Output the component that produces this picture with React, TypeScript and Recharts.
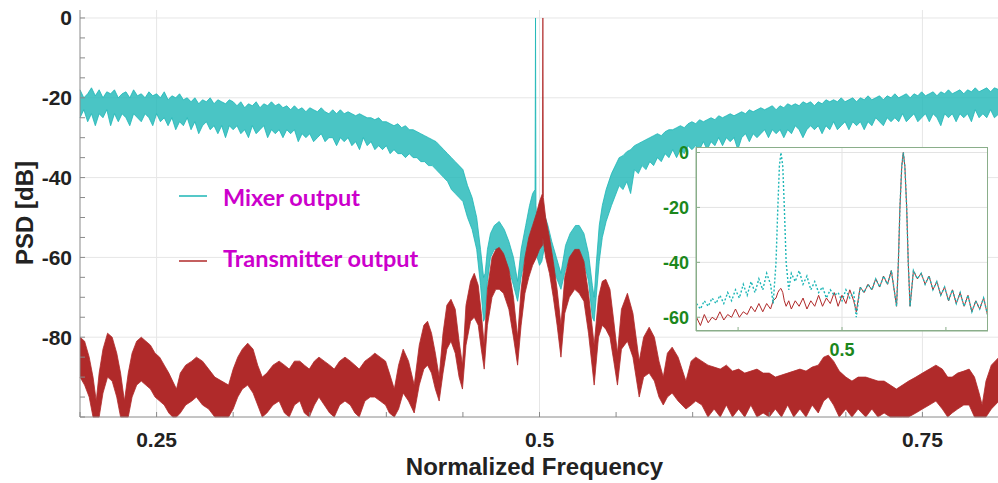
import {
  Area,
  CartesianGrid,
  ComposedChart,
  Line,
  LineChart,
  XAxis,
  YAxis,
} from 'recharts';

// main plot: mixer output, upper / lower edge of the noisy trace
const mixF = [
  0.2, 0.2025, 0.205, 0.2075, 0.21, 0.2125, 0.215, 0.2175, 0.22, 0.2225,
  0.225, 0.2275, 0.23, 0.2325, 0.235, 0.2375, 0.24, 0.2425, 0.245, 0.2475,
  0.25, 0.2525, 0.255, 0.2575, 0.26, 0.2625, 0.265, 0.2675, 0.27, 0.2725,
  0.275, 0.2775, 0.28, 0.2825, 0.285, 0.2875, 0.29, 0.2925, 0.295, 0.2975,
  0.3, 0.3025, 0.305, 0.3075, 0.31, 0.3125, 0.315, 0.3175, 0.32, 0.3225,
  0.325, 0.3275, 0.33, 0.3325, 0.335, 0.3375, 0.34, 0.3425, 0.345, 0.3475,
  0.35, 0.3525, 0.355, 0.3575, 0.36, 0.3625, 0.365, 0.3675, 0.37, 0.3725,
  0.375, 0.3775, 0.38, 0.3825, 0.385, 0.3875, 0.39, 0.3925, 0.395, 0.3975,
  0.4, 0.4025, 0.405, 0.4075, 0.41, 0.4125, 0.415, 0.4175, 0.42, 0.4225,
  0.425, 0.4275, 0.43, 0.4325, 0.435, 0.4375, 0.44, 0.4425, 0.445, 0.4475,
  0.45, 0.453, 0.456, 0.459, 0.4615, 0.4635, 0.4645, 0.466, 0.468, 0.4705,
  0.4737, 0.477, 0.48, 0.483, 0.4857, 0.488, 0.491, 0.4935, 0.4955, 0.4971,
  0.4974, 0.4977, 0.4985, 0.5, 0.5015, 0.503, 0.5055, 0.508, 0.511, 0.514,
  0.517, 0.52, 0.5235, 0.5259, 0.529, 0.532, 0.5345, 0.5357, 0.537, 0.539,
  0.541, 0.5435, 0.547,
  0.552, 0.5545, 0.557, 0.5595, 0.562, 0.5645, 0.567, 0.5695, 0.572, 0.5745,
  0.577, 0.5795, 0.582, 0.5845, 0.587, 0.5895, 0.592, 0.5945, 0.597, 0.5995,
  0.602, 0.6045, 0.607, 0.6095, 0.612, 0.6145, 0.617, 0.6195, 0.622, 0.6245,
  0.627, 0.6295, 0.632, 0.6345, 0.637, 0.6395, 0.642, 0.6445, 0.647, 0.6495,
  0.652, 0.6545, 0.657, 0.6595, 0.662, 0.6645, 0.667, 0.6695, 0.672, 0.6745,
  0.677, 0.6795, 0.682, 0.6845, 0.687, 0.6895, 0.692, 0.6945, 0.697, 0.6995,
  0.702, 0.7045, 0.707, 0.7095, 0.712, 0.7145, 0.717, 0.7195, 0.722, 0.7245,
  0.727, 0.7295, 0.732, 0.7345, 0.737, 0.7395, 0.742, 0.7445, 0.747, 0.7495,
  0.752, 0.7545, 0.757, 0.7595, 0.762, 0.7645, 0.767, 0.7695, 0.772, 0.7745,
  0.777, 0.7795, 0.782, 0.7845, 0.787, 0.7895, 0.792, 0.7945, 0.797, 0.8,
];
const mixHi = [
  -18, -20, -19, -17.5, -19.5, -18, -20, -18.5, -19, -18,
  -20, -19, -18.5, -20, -18, -19.5, -19, -20, -18.5, -19.5,
  -19, -20, -18.5, -20.5, -19.5, -20, -19, -20.5, -20, -21,
  -20, -21.5, -20.5, -21, -20, -21.5, -20.5, -21, -21.5, -20.5,
  -21, -22, -21, -22.5, -21.5, -22, -21, -22.5, -21.5, -22,
  -21, -22, -21.5, -22.5, -22, -23, -22, -23, -22.5, -23.5,
  -22.5, -23, -23.5, -22.5, -23.5, -24, -23, -24, -23, -24,
  -23.5, -24, -24.5, -24, -24.5, -25, -25, -25.5, -25, -26,
  -26, -26.5, -27, -26.5, -27.5, -27, -28, -28, -28.5, -29,
  -29.5, -30, -30.5, -31, -32, -33, -34, -35, -36, -37,
  -38, -42, -45, -50, -58, -65, -64, -58, -54, -52,
  -51, -53, -56, -60, -66, -58, -52, -47, -44, -43,
  0, -47, -52, -56, -54, -49, -52, -56, -60, -64,
  -57, -54, -52, -52, -54, -59, -67, -70, -62, -52,
  -47, -43, -39,
  -35, -34.5, -33.5, -33, -32, -31.5, -31, -30.5, -30, -29.5,
  -29, -29.5, -28.5, -28, -28, -27.5, -27, -27.5, -26.5, -26,
  -26.5, -25.5, -26, -25.5, -25, -25.5, -24.5, -25, -24.5, -24,
  -24.5, -24, -23.5, -24, -23, -23.5, -23, -22.5, -23, -22.5,
  -22, -23, -22, -22.5, -21.5, -22, -21.5, -22, -21, -21.5,
  -21, -22, -21, -21.5, -20.5, -21, -20.5, -21, -20, -21,
  -20.5, -20, -21, -20, -20.5, -19.5, -20.5, -20, -19.5, -20.5,
  -19.5, -20, -19, -20, -19.5, -19, -20, -19, -19.5, -18.5,
  -19.5, -19, -18.5, -19.5, -18.5, -19, -18, -19, -18.5, -18,
  -19, -18, -18.5, -17.5, -18.5, -18, -17.5, -18.5, -17.5, -18,
];
const mixLo = [
  -25, -23, -26, -24, -27, -24, -25, -23, -27, -24,
  -26, -24, -25, -27, -24, -25, -26, -24, -25, -27,
  -24, -26, -25, -27, -25, -28, -26, -27, -25, -28,
  -26, -29, -27, -26, -28, -27, -29, -27, -30, -27,
  -28, -27, -29, -28, -30, -27, -29, -28, -27, -30,
  -28, -29, -28, -30, -28, -29, -28, -31, -29, -30,
  -29, -31, -30, -29, -31, -30, -30, -32, -30, -31,
  -30, -32, -31, -33, -30, -32, -31, -33, -32, -33,
  -32, -34, -33, -34, -34, -35, -34, -35, -35, -36,
  -36, -37, -37, -38, -39, -40, -41, -43, -44, -45,
  -46, -50, -53, -58, -67, -76, -75, -66, -60, -58,
  -58, -60, -63, -67, -71, -65, -59, -55, -54, -53,
  -52, -56, -60, -62, -61, -58, -60, -62, -65, -68,
  -63, -60, -58, -58, -61, -66, -75, -76, -70, -61,
  -55, -51, -47,
  -42, -43, -41, -44, -38, -39, -37, -38, -36, -37,
  -35, -36, -34, -35, -33, -35, -33, -34, -32, -33,
  -32, -33, -31, -33, -31, -32, -30, -32, -30, -31,
  -30, -33, -30, -29, -31, -29, -30, -29, -28, -30,
  -28, -29, -28, -30, -28, -29, -27, -28, -30, -28,
  -27, -28, -27, -29, -27, -28, -26, -28, -27, -26,
  -28, -26, -27, -26, -28, -26, -27, -25, -26, -27,
  -25, -26, -25, -26, -24, -26, -25, -24, -26, -25,
  -24, -26, -24, -25, -27, -24, -25, -24, -26, -24,
  -25, -24, -26, -23, -25, -24, -25, -23, -25, -24,
];

// main plot: transmitter output envelope
const txF = [
  0.2, 0.203, 0.206, 0.2085, 0.2106, 0.2125, 0.215, 0.218, 0.221, 0.224, 0.2265, 0.229, 0.2315, 0.234,
  0.237, 0.24, 0.243, 0.246, 0.249, 0.252, 0.255, 0.258, 0.2605, 0.263, 0.2655, 0.269, 0.273, 0.276,
  0.28, 0.284, 0.288, 0.2925, 0.297, 0.3, 0.303, 0.306, 0.3095, 0.313, 0.316, 0.319, 0.322, 0.326, 0.33,
  0.3335, 0.3366, 0.34, 0.3435, 0.3465, 0.3497, 0.353, 0.356, 0.3595, 0.363, 0.366, 0.3695, 0.373,
  0.3765, 0.3795, 0.3823, 0.386, 0.3895, 0.3925, 0.396, 0.3995, 0.402, 0.4052, 0.408, 0.411, 0.4145,
  0.4182, 0.4215, 0.4245, 0.4269, 0.4295, 0.432, 0.4345, 0.437, 0.4395, 0.4422, 0.445, 0.4475, 0.4497,
  0.452, 0.455, 0.4574, 0.46, 0.462, 0.4639, 0.466, 0.469, 0.4715, 0.4737, 0.4765, 0.48, 0.483, 0.4857,
  0.488, 0.4905, 0.493, 0.4955, 0.498, 0.5, 0.5019, 0.5022, 0.5025, 0.504, 0.5065, 0.509, 0.5115, 0.514,
  0.5165, 0.5195, 0.523, 0.5259, 0.529, 0.532, 0.5357, 0.5385, 0.541, 0.5433, 0.546, 0.5485, 0.5509,
  0.5535, 0.5574, 0.561, 0.5651, 0.568, 0.5716, 0.575, 0.578, 0.5808, 0.5835, 0.5866, 0.5905, 0.5956,
  0.599, 0.602, 0.606, 0.61, 0.614, 0.618, 0.622, 0.626, 0.63, 0.634, 0.638, 0.642, 0.646, 0.65, 0.654,
  0.658, 0.662, 0.666, 0.67, 0.674, 0.678, 0.682, 0.6855, 0.6886, 0.692, 0.6957, 0.7, 0.704, 0.708,
  0.713, 0.717, 0.721, 0.725, 0.729, 0.733, 0.737, 0.741, 0.7457, 0.75, 0.7545, 0.7588, 0.763, 0.7665,
  0.7694, 0.773, 0.777, 0.7805, 0.784, 0.787, 0.789, 0.7915, 0.795, 0.8,
];
const txHi = [
  -80, -81, -85, -90, -96, -89, -83, -79, -80, -84, -89, -96, -89, -84,
  -81, -80, -81, -82, -84, -85, -87, -89, -91, -93, -89, -87, -86, -85,
  -86, -88, -90, -91, -92, -88, -85, -83, -81.5, -83, -87, -90, -89, -87, -86,
  -87, -88, -86, -86, -87, -88, -86, -85, -86, -87, -88, -86, -85,
  -86, -87, -88, -86, -85, -84, -85, -86, -89, -93, -87, -83, -86,
  -92, -82, -77, -76, -79, -84, -90, -79, -72, -70.5, -73, -81, -87,
  -72, -66, -64, -67, -74, -82, -68, -60, -58, -57.5, -59, -63, -70, -80,
  -68, -60, -55, -52, -49, -46, -44, 0, -45, -50, -55, -61, -68, -77,
  -65, -60, -58, -58, -61, -69, -82, -70, -66, -65.5, -68, -76, -84,
  -73, -69, -74, -86, -80, -77.5, -80, -86, -90, -84, -82.5, -85, -91,
  -86, -85, -86, -87, -87.5, -88, -87, -88.5, -88, -89, -88.5, -88, -89, -89, -90,
  -89.5, -89, -88.5, -88, -88.5, -87.5, -87, -85, -84.5, -86, -88.5, -90, -91, -90,
  -90, -90.5, -91, -91, -92, -93, -92, -91, -90, -89, -88, -87, -88, -90,
  -90, -89, -88.5, -88, -90, -94, -97, -91, -87, -85,
];
const txLo = [
  -90, -92, -95, -100, -100, -100, -94, -90, -91, -95, -100, -100, -100, -95,
  -92, -91, -92, -93, -95, -96, -97, -99, -100, -100, -99, -97, -96, -95,
  -97, -98, -100, -100, -100, -98, -95, -93, -92, -94, -97, -100, -99, -97, -96,
  -99, -100, -97, -96, -99, -100, -97, -95, -97, -99, -100, -97, -96,
  -97, -99, -100, -96, -95, -95, -96, -97, -99, -100, -98, -94, -96,
  -99, -92, -88, -87, -89, -93, -96, -89, -83, -81, -84, -90, -93,
  -82, -76, -75, -77, -83, -88, -77, -70, -68, -68, -69, -73, -80, -87,
  -77, -69, -65, -62, -60, -58, -57, -55, -56, -60, -64, -70, -77, -85,
  -74, -70, -68, -69, -71, -79, -92, -80, -77, -78, -80, -86, -92,
  -83, -81, -85, -95, -90, -89, -91, -95, -97, -95, -94, -96, -98,
  -97, -96, -97, -100, -98, -100, -97, -100, -98, -100, -97, -100, -99, -100, -98,
  -100, -97, -100, -98, -100, -97, -99, -96, -95, -97, -100, -98, -100, -98,
  -100, -98, -100, -99, -100, -100, -100, -100, -99, -98, -97, -96, -98, -100,
  -99, -98, -97, -97, -100, -100, -100, -100, -98, -96,
];

// inset: zoom around the two tones
const insetF = [
  0.4944, 0.49455, 0.4947, 0.49485, 0.495, 0.49515, 0.4953, 0.49545, 0.4956, 0.49575, 0.4959, 0.49605,
  0.4962, 0.49635, 0.4965, 0.49665, 0.4968, 0.49695, 0.4971, 0.49725, 0.49735, 0.49746, 0.49753,
  0.49759, 0.49765, 0.49772, 0.49778, 0.49785, 0.49795, 0.49805, 0.4982, 0.49835, 0.4985, 0.49865,
  0.4988, 0.49895, 0.4991, 0.49925, 0.4994, 0.49955, 0.4997, 0.49985, 0.5, 0.50015, 0.5003, 0.50045,
  0.50055, 0.5007, 0.50085, 0.501, 0.50115, 0.5013, 0.50145, 0.5016, 0.50175, 0.5019, 0.5021, 0.50217,
  0.50223, 0.5023, 0.50236, 0.50242, 0.50249, 0.50255, 0.50262, 0.50275, 0.5029, 0.50305, 0.5032,
  0.50335, 0.5035, 0.50365, 0.5038, 0.50395, 0.5041, 0.50425, 0.5044, 0.50455, 0.5047, 0.50485, 0.505,
  0.50515, 0.5053, 0.50545, 0.5056,
];
const insetMix = [
  -55, -57, -54, -56, -53, -55, -52, -55, -51, -54, -50, -53,
  -48, -52, -47, -51, -46, -50, -44, -48, -55, -40, -20,
  -5, 0, -5, -20, -40, -50, -44, -47, -43, -48, -45,
  -50, -47, -51, -49, -53, -50, -52, -51, -54, -50, -53, -51,
  -60, -49, -51, -48, -50, -46, -49, -45, -48, -43, -56, -40,
  -20, -5, 0, -5, -20, -40, -56, -43, -46, -44, -48,
  -45, -50, -47, -52, -49, -54, -50, -55, -51, -56, -52, -58,
  -54, -57, -53, -59,
];
const insetTx = [
  -60, -63, -59, -62, -60, -61, -58, -61, -59, -60, -57, -60,
  -58, -59, -56, -58, -55, -58, -55, -57, -54, -53, -51,
  -50, -49.5, -51, -54, -56, -54, -57, -54, -56, -53, -57,
  -54, -56, -52, -56, -53, -55, -51, -56, -52, -55, -50, -54,
  -58, -49, -51, -48, -50, -46, -49, -45, -48, -43, -56, -40,
  -20, -5, 0, -5, -20, -40, -56, -43, -46, -44, -48,
  -45, -50, -47, -52, -49, -54, -50, -55, -51, -56, -52, -58,
  -54, -57, -53, -59,
];

// ticks
const xTicks = [0.2, 0.25, 0.3, 0.35, 0.4, 0.45, 0.5, 0.55, 0.6, 0.65, 0.7, 0.75, 0.8];
const xLabels = [0.25, 0.5, 0.75];
const yTicks = [-100, -95, -90, -85, -80, -75, -70, -65, -60, -55, -50, -45, -40, -35, -30, -25, -20, -15, -10, -5, 0];
const yLabels = [0, -20, -40, -60, -80];
const insetXTicks = [0.496, 0.5, 0.504];
const insetYTicks = [-60, -40, -20, 0];

const TEAL = '#1db6b6';
const RED = '#b02a2a';
const AXIS = '#8a8a8a';
const GREEN = '#1c871c';
const INSET_BORDER = '#8aae8a';
const FONT = '"Liberation Sans", Arial, sans-serif';

const mixRows = mixF.map((f, i) => ({ f, band: [mixLo[i], mixHi[i]] }));
const txRows = txF.map((f, i) => ({ f, band: [txLo[i], txHi[i]] }));
const insetRows = insetF.map((f, i) => ({ f, mix: insetMix[i], tx: insetTx[i] }));

const tickStyle = { fontSize: 21, fontWeight: 700, fill: '#222', fontFamily: FONT };
const insetTickStyle = { fontSize: 18, fontWeight: 700, fill: GREEN, fontFamily: FONT };

export default function App() {
  return (
    <div
      style={{
        position: 'absolute',
        left: 0,
        top: 0,
        width: 998,
        height: 483,
        overflow: 'hidden',
        background: '#fff',
      }}
    >
      <ComposedChart width={1000} height={483} margin={{ top: 10, right: 1, bottom: 0, left: 0 }}>
        <CartesianGrid stroke="#e6e6e6" horizontalValues={yLabels} verticalValues={xLabels} />
        <XAxis
          dataKey="f"
          type="number"
          domain={[0.2, 0.8]}
          ticks={xTicks}
          interval={0}
          tickFormatter={(v: number) => (xLabels.includes(v) ? String(v) : '')}
          tick={tickStyle}
          tickSize={-5}
          tickMargin={20}
          height={66}
          stroke={AXIS}
          label={{
            value: 'Normalized Frequency',
            position: 'insideBottom',
            offset: 8,
            dx: -5,
            fontSize: 24,
            fontWeight: 700,
            fill: '#222',
            fontFamily: FONT,
          }}
        />
        <XAxis
          xAxisId="top"
          orientation="top"
          type="number"
          domain={[0.2, 0.8]}
          ticks={xTicks}
          interval={0}
          tick={false}
          tickSize={-5}
          height={0}
          stroke={AXIS}
        />
        <YAxis
          type="number"
          domain={[-100, 2]}
          ticks={yTicks}
          interval={0}
          tickFormatter={(v: number) => (yLabels.includes(v) ? String(v) : '')}
          tick={tickStyle}
          tickSize={-5}
          tickMargin={13}
          width={80}
          stroke={AXIS}
        />
        <YAxis
          yAxisId="right"
          orientation="right"
          type="number"
          domain={[-100, 2]}
          ticks={yTicks}
          interval={0}
          tick={false}
          tickSize={-5}
          width={0}
          stroke={AXIS}
        />
        <Area
          data={mixRows}
          dataKey="band"
          type="linear"
          stroke={TEAL}
          strokeWidth={0.8}
          fill={TEAL}
          fillOpacity={0.8}
          dot={false}
          activeDot={false}
          isAnimationActive={false}
        />
        <Area
          data={txRows}
          dataKey="band"
          type="linear"
          stroke={RED}
          strokeWidth={0.8}
          fill={RED}
          fillOpacity={1}
          dot={false}
          activeDot={false}
          isAnimationActive={false}
        />
      </ComposedChart>

      <div style={{ position: 'absolute', left: 640, top: 140 }}>
        <LineChart width={360} height={230} data={insetRows} margin={{ top: 7, right: 12, bottom: 0, left: 0 }}>
          <CartesianGrid fill="#fff" stroke="#e3e3e3" horizontalValues={insetYTicks} verticalValues={[0.5]} />
          <XAxis
            dataKey="f"
            type="number"
            domain={[0.49438, 0.50562]}
            ticks={insetXTicks}
            interval={0}
            tickFormatter={(v: number) => (v === 0.5 ? '0.5' : '')}
            tick={insetTickStyle}
            tickSize={-4}
            tickMargin={16}
            height={39}
            stroke={INSET_BORDER}
          />
          <YAxis
            type="number"
            domain={[-65, 2]}
            ticks={insetYTicks}
            interval={0}
            tick={insetTickStyle}
            tickSize={-4}
            tickMargin={11}
            width={56}
            stroke={INSET_BORDER}
          />
          <Line dataKey="tx" type="linear" stroke={RED} strokeWidth={1} dot={false} activeDot={false} isAnimationActive={false} />
          <Line
            dataKey="mix"
            type="linear"
            stroke={TEAL}
            strokeWidth={1.4}
            strokeDasharray="2 2"
            dot={false}
            activeDot={false}
            isAnimationActive={false}
          />
        </LineChart>
        {/* inset frame */}
        <div
          style={{
            position: 'absolute',
            left: 56,
            top: 7,
            width: 292,
            height: 184,
            boxSizing: 'border-box',
            border: `1.5px solid ${INSET_BORDER}`,
            pointerEvents: 'none',
          }}
        />
      </div>

      <svg width={998} height={483} style={{ position: 'absolute', left: 0, top: 0, pointerEvents: 'none' }}>
        <text
          x={24}
          y={213}
          transform="rotate(-90 24 213)"
          textAnchor="middle"
          dominantBaseline="central"
          fontSize={24}
          fontWeight={700}
          fill="#222"
          fontFamily={FONT}
        >
          PSD [dB]
        </text>
        <line x1={179} x2={207} y1={196} y2={196} stroke={TEAL} strokeWidth={1.5} />
        <text x={223} y={206} fontSize={23.5} fontWeight={700} fill="#cc00cc" fontFamily="Lato, sans-serif">
          Mixer output
        </text>
        <line x1={179} x2={207} y1={261} y2={261} stroke={RED} strokeWidth={1.5} />
        <text x={223} y={267} fontSize={23.5} fontWeight={700} fill="#cc00cc" fontFamily="Lato, sans-serif">
          Transmitter output
        </text>
      </svg>
    </div>
  );
}
